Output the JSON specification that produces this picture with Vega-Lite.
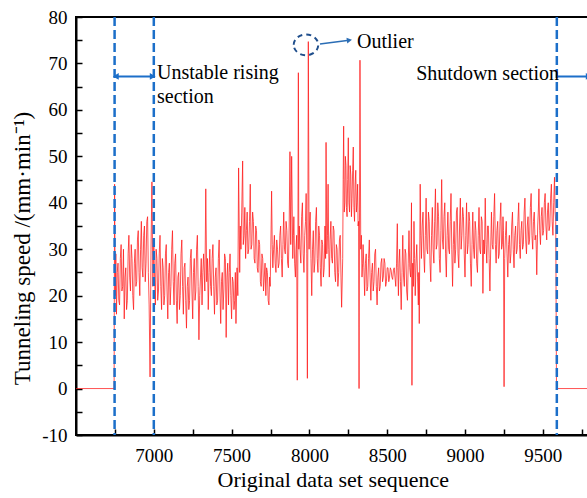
{
  "$schema": "https://vega.github.io/schema/vega-lite/v6.json",
  "width": 513.5,
  "height": 418,
  "autosize": {"type": "none"},
  "padding": {"left": 76, "top": 17, "right": 0, "bottom": 63},
  "background": "white",
  "config": {
    "font": "Liberation Serif",
    "view": {"stroke": "black", "strokeWidth": 2},
    "style": {"guide-label": {"font": "Liberation Serif"}, "guide-title": {"font": "Liberation Serif"}},
    "axis": {
      "domainColor": "black", "domainWidth": 2, "tickColor": "black", "tickWidth": 1.5,
      "labelFontSize": 19, "labelColor": "black",
      "titleFontWeight": "normal", "titleColor": "black",
      "grid": false
    }
  },
  "datasets": {
    "speed": [
      {"seq":6500,"v":0},{"seq":6745,"v":0},{"seq":6748,"v":44},{"seq":6752,"v":20},{"seq":6756,"v":29},{"seq":6760,"v":16},{"seq":6765,"v":25},{"seq":6770,"v":27},{"seq":6775,"v":19},{"seq":6780,"v":18},{"seq":6785,"v":28},{"seq":6790,"v":31},{"seq":6795,"v":21},{"seq":6800,"v":22},{"seq":6805,"v":30},{"seq":6810,"v":15},{"seq":6815,"v":24},{"seq":6820,"v":26},{"seq":6825,"v":17},{"seq":6830,"v":19},{"seq":6835,"v":29},{"seq":6840,"v":33},{"seq":6845,"v":24},{"seq":6850,"v":21},{"seq":6855,"v":31},{"seq":6860,"v":28},{"seq":6865,"v":20},{"seq":6870,"v":17},{"seq":6875,"v":27},{"seq":6880,"v":30},{"seq":6885,"v":22},{"seq":6890,"v":23},{"seq":6895,"v":32},{"seq":6900,"v":34},{"seq":6905,"v":25},{"seq":6910,"v":20},{"seq":6915,"v":30},{"seq":6920,"v":36},{"seq":6925,"v":26},{"seq":6930,"v":24},{"seq":6935,"v":33},{"seq":6940,"v":35},{"seq":6945,"v":23},{"seq":6950,"v":27},{"seq":6955,"v":36},{"seq":6960,"v":37},{"seq":6965,"v":25},{"seq":6970,"v":18},{"seq":6976,"v":2.5},{"seq":6982,"v":30},{"seq":6988,"v":44.5},{"seq":6994,"v":22},
      {"seq":7000,"v":31},{"seq":7005,"v":24},{"seq":7010,"v":18},{"seq":7015,"v":30},{"seq":7020,"v":28},{"seq":7025,"v":19},{"seq":7030,"v":21},{"seq":7035,"v":29},{"seq":7040,"v":33},{"seq":7045,"v":22},{"seq":7050,"v":17},{"seq":7055,"v":28},{"seq":7060,"v":26},{"seq":7065,"v":18},{"seq":7070,"v":20},{"seq":7075,"v":29},{"seq":7080,"v":31},{"seq":7085,"v":21},{"seq":7090,"v":15},{"seq":7095,"v":25},{"seq":7100,"v":27},{"seq":7105,"v":18},{"seq":7110,"v":22},{"seq":7115,"v":30},{"seq":7120,"v":34},{"seq":7125,"v":23},{"seq":7130,"v":18},{"seq":7135,"v":27},{"seq":7140,"v":29},{"seq":7145,"v":19},{"seq":7150,"v":14},{"seq":7155,"v":24},{"seq":7160,"v":25},{"seq":7165,"v":17},{"seq":7170,"v":20},{"seq":7175,"v":29},{"seq":7180,"v":32},{"seq":7185,"v":22},{"seq":7190,"v":16},{"seq":7195,"v":26},{"seq":7200,"v":27},{"seq":7205,"v":19},{"seq":7210,"v":13},{"seq":7215,"v":22},{"seq":7220,"v":24},{"seq":7225,"v":17},{"seq":7230,"v":19},{"seq":7235,"v":28},{"seq":7240,"v":30},{"seq":7245,"v":21},{"seq":7250,"v":15},{"seq":7255,"v":25},{"seq":7260,"v":28},{"seq":7265,"v":19},{"seq":7270,"v":21},{"seq":7275,"v":30},{"seq":7280,"v":33},{"seq":7285,"v":22},{"seq":7290,"v":10.5},{"seq":7295,"v":20},{"seq":7300,"v":24},{"seq":7305,"v":28},{"seq":7310,"v":18},{"seq":7315,"v":25},{"seq":7320,"v":29},{"seq":7328,"v":21},{"seq":7334,"v":43},{"seq":7340,"v":23},{"seq":7345,"v":28},{"seq":7350,"v":17},{"seq":7355,"v":25},{"seq":7360,"v":30},{"seq":7365,"v":22},{"seq":7370,"v":20},{"seq":7375,"v":28},{"seq":7380,"v":31},{"seq":7385,"v":22},{"seq":7390,"v":16},{"seq":7395,"v":24},{"seq":7400,"v":26},{"seq":7405,"v":18},{"seq":7410,"v":19},{"seq":7415,"v":28},{"seq":7420,"v":32},{"seq":7425,"v":21},{"seq":7430,"v":14},{"seq":7435,"v":23},{"seq":7440,"v":25},{"seq":7445,"v":17},{"seq":7450,"v":21},{"seq":7455,"v":29},{"seq":7460,"v":28},{"seq":7465,"v":11},{"seq":7470,"v":24},{"seq":7475,"v":27},{"seq":7480,"v":18},{"seq":7485,"v":25},{"seq":7490,"v":29},{"seq":7495,"v":20},{"seq":7500,"v":15},{"seq":7505,"v":24},{"seq":7510,"v":23},{"seq":7515,"v":17},{"seq":7520,"v":19},{"seq":7524,"v":25},{"seq":7528,"v":14},{"seq":7535,"v":26},{"seq":7540,"v":20},{"seq":7545,"v":47.5},{"seq":7552,"v":25},{"seq":7556,"v":35},{"seq":7560,"v":30},{"seq":7565,"v":38},{"seq":7571,"v":49},{"seq":7575,"v":31},{"seq":7580,"v":33},{"seq":7585,"v":39},{"seq":7590,"v":28},{"seq":7595,"v":34},{"seq":7600,"v":38},{"seq":7605,"v":29},{"seq":7610,"v":30},{"seq":7615,"v":36},{"seq":7620,"v":44},{"seq":7625,"v":30},{"seq":7630,"v":31},{"seq":7635,"v":38},{"seq":7640,"v":36},{"seq":7645,"v":28},{"seq":7650,"v":27},{"seq":7655,"v":35},{"seq":7660,"v":34},{"seq":7665,"v":26},{"seq":7670,"v":25},{"seq":7675,"v":32},{"seq":7680,"v":31},{"seq":7685,"v":23},{"seq":7690,"v":22},{"seq":7695,"v":29},{"seq":7700,"v":28},{"seq":7705,"v":21},{"seq":7710,"v":24},{"seq":7715,"v":27},{"seq":7720,"v":20},{"seq":7725,"v":26},{"seq":7730,"v":25},{"seq":7735,"v":19},{"seq":7740,"v":18},{"seq":7744,"v":24},{"seq":7748,"v":22},{"seq":7752,"v":30},{"seq":7757,"v":42.5},{"seq":7761,"v":31},{"seq":7765,"v":26},{"seq":7770,"v":30},{"seq":7775,"v":33},{"seq":7780,"v":27},{"seq":7785,"v":25},{"seq":7790,"v":32},{"seq":7795,"v":30},{"seq":7800,"v":26},{"seq":7805,"v":27},{"seq":7810,"v":33},{"seq":7815,"v":35},{"seq":7820,"v":28},{"seq":7825,"v":24},{"seq":7830,"v":31},{"seq":7835,"v":38},{"seq":7840,"v":30},{"seq":7845,"v":29},{"seq":7850,"v":36},{"seq":7855,"v":34},{"seq":7860,"v":27},{"seq":7865,"v":26},{"seq":7870,"v":35},{"seq":7875,"v":51},{"seq":7880,"v":31},{"seq":7886,"v":50},{"seq":7893,"v":28},{"seq":7897,"v":33},{"seq":7900,"v":37},{"seq":7905,"v":27},{"seq":7910,"v":24},{"seq":7914,"v":30},{"seq":7918,"v":33},{"seq":7922,"v":1.8},{"seq":7926,"v":30},{"seq":7929,"v":68},{"seq":7932,"v":30},{"seq":7935,"v":35},{"seq":7940,"v":30},{"seq":7945,"v":27},{"seq":7950,"v":37},{"seq":7955,"v":40},{"seq":7960,"v":29},{"seq":7965,"v":25},{"seq":7970,"v":33},{"seq":7975,"v":36},{"seq":7979,"v":42},{"seq":7983,"v":29},{"seq":7987,"v":2.2},{"seq":7990,"v":32},{"seq":7993,"v":74.7},{"seq":7998,"v":30},
      {"seq":8000,"v":35},{"seq":8005,"v":38},{"seq":8010,"v":28},{"seq":8015,"v":20},{"seq":8020,"v":30},{"seq":8025,"v":34},{"seq":8030,"v":25},{"seq":8035,"v":27},{"seq":8040,"v":36},{"seq":8045,"v":39},{"seq":8050,"v":28},{"seq":8055,"v":25},{"seq":8060,"v":35},{"seq":8065,"v":33},{"seq":8070,"v":26},{"seq":8075,"v":22},{"seq":8080,"v":32},{"seq":8085,"v":31},{"seq":8090,"v":24},{"seq":8095,"v":26},{"seq":8100,"v":35},{"seq":8104,"v":28},{"seq":8107,"v":53},{"seq":8112,"v":29},{"seq":8116,"v":33},{"seq":8120,"v":44},{"seq":8124,"v":30},{"seq":8128,"v":24},{"seq":8133,"v":32},{"seq":8138,"v":36},{"seq":8143,"v":28},{"seq":8148,"v":27},{"seq":8153,"v":35},{"seq":8158,"v":34},{"seq":8163,"v":25},{"seq":8168,"v":23},{"seq":8173,"v":31},{"seq":8178,"v":30},{"seq":8183,"v":22},{"seq":8188,"v":25},{"seq":8193,"v":32},{"seq":8198,"v":33},{"seq":8203,"v":24},{"seq":8207,"v":17.5},{"seq":8214,"v":28},{"seq":8217,"v":45},{"seq":8220,"v":56.5},{"seq":8224,"v":38},{"seq":8228,"v":40},{"seq":8231,"v":50},{"seq":8235,"v":48},{"seq":8238,"v":39},{"seq":8242,"v":37},{"seq":8246,"v":45},{"seq":8250,"v":54},{"seq":8254,"v":40},{"seq":8258,"v":38},{"seq":8262,"v":48},{"seq":8266,"v":46},{"seq":8270,"v":37},{"seq":8274,"v":41},{"seq":8278,"v":47},{"seq":8282,"v":52},{"seq":8286,"v":39},{"seq":8290,"v":36},{"seq":8294,"v":44},{"seq":8298,"v":47},{"seq":8302,"v":38},{"seq":8306,"v":40},{"seq":8310,"v":44},{"seq":8313,"v":35},{"seq":8316,"v":36},{"seq":8319,"v":0},{"seq":8322,"v":38},{"seq":8325,"v":70.7},{"seq":8330,"v":30},{"seq":8334,"v":33},{"seq":8338,"v":24},{"seq":8342,"v":27},{"seq":8345,"v":31},{"seq":8350,"v":26},{"seq":8355,"v":20},{"seq":8360,"v":27},{"seq":8365,"v":29},{"seq":8370,"v":21},{"seq":8375,"v":22},{"seq":8380,"v":28},{"seq":8385,"v":32},{"seq":8390,"v":24},{"seq":8395,"v":19},{"seq":8400,"v":25},{"seq":8405,"v":27},{"seq":8410,"v":21},{"seq":8415,"v":23},{"seq":8420,"v":29},{"seq":8425,"v":30},{"seq":8430,"v":22},{"seq":8435,"v":18},{"seq":8440,"v":24},{"seq":8445,"v":26},{"seq":8450,"v":21},{"seq":8455,"v":22},{"seq":8460,"v":27},{"seq":8465,"v":28},{"seq":8470,"v":23},{"seq":8475,"v":24},{"seq":8480,"v":28},{"seq":8485,"v":27},{"seq":8490,"v":22},{"seq":8495,"v":23},{"seq":8500,"v":26},{"seq":8505,"v":26},{"seq":8510,"v":23},{"seq":8515,"v":24},{"seq":8520,"v":26},{"seq":8525,"v":25.5},{"seq":8530,"v":24},{"seq":8535,"v":23.5},{"seq":8540,"v":25.5},{"seq":8545,"v":26},{"seq":8550,"v":24},{"seq":8555,"v":22},{"seq":8560,"v":27},{"seq":8565,"v":35.5},{"seq":8568,"v":26},{"seq":8572,"v":20},{"seq":8576,"v":27},{"seq":8580,"v":30},{"seq":8585,"v":23},{"seq":8590,"v":17},{"seq":8595,"v":25},{"seq":8600,"v":33},{"seq":8605,"v":24},{"seq":8610,"v":22},{"seq":8615,"v":30},{"seq":8620,"v":29},{"seq":8625,"v":21},{"seq":8630,"v":19},{"seq":8635,"v":27},{"seq":8640,"v":34},{"seq":8645,"v":26},{"seq":8650,"v":24},{"seq":8653,"v":30},{"seq":8656,"v":40},{"seq":8659,"v":0.7},{"seq":8664,"v":27},{"seq":8668,"v":22},{"seq":8672,"v":36},{"seq":8676,"v":28},{"seq":8680,"v":20},{"seq":8685,"v":27},{"seq":8690,"v":31},{"seq":8695,"v":24},{"seq":8700,"v":18},{"seq":8703,"v":25},{"seq":8706,"v":14},{"seq":8712,"v":44},{"seq":8716,"v":33},{"seq":8720,"v":28},{"seq":8725,"v":35},{"seq":8730,"v":38},{"seq":8735,"v":29},{"seq":8740,"v":25},{"seq":8745,"v":33},{"seq":8750,"v":41},{"seq":8755,"v":30},{"seq":8760,"v":29},{"seq":8765,"v":38},{"seq":8770,"v":36},{"seq":8775,"v":27},{"seq":8780,"v":23},{"seq":8785,"v":33},{"seq":8790,"v":39},{"seq":8795,"v":30},{"seq":8800,"v":27},{"seq":8805,"v":36},{"seq":8810,"v":43},{"seq":8815,"v":30},{"seq":8820,"v":31},{"seq":8825,"v":40},{"seq":8830,"v":37},{"seq":8835,"v":28},{"seq":8840,"v":25},{"seq":8845,"v":34},{"seq":8850,"v":45},{"seq":8855,"v":32},{"seq":8860,"v":30},{"seq":8865,"v":37},{"seq":8870,"v":40},{"seq":8875,"v":29},{"seq":8880,"v":24},{"seq":8885,"v":33},{"seq":8890,"v":38},{"seq":8895,"v":30},{"seq":8900,"v":29},{"seq":8905,"v":36},{"seq":8910,"v":42},{"seq":8915,"v":30},{"seq":8920,"v":22},{"seq":8925,"v":31},{"seq":8930,"v":36},{"seq":8935,"v":27},{"seq":8940,"v":30},{"seq":8945,"v":38},{"seq":8950,"v":39},{"seq":8955,"v":29},{"seq":8960,"v":26},{"seq":8965,"v":35},{"seq":8970,"v":41},{"seq":8975,"v":30},{"seq":8980,"v":33},{"seq":8985,"v":39},{"seq":8990,"v":37},{"seq":8995,"v":29},
      {"seq":9000,"v":24},{"seq":9005,"v":33},{"seq":9010,"v":40},{"seq":9015,"v":29},{"seq":9020,"v":31},{"seq":9025,"v":38},{"seq":9030,"v":36},{"seq":9035,"v":27},{"seq":9040,"v":22},{"seq":9045,"v":31},{"seq":9050,"v":38},{"seq":9055,"v":30},{"seq":9060,"v":28},{"seq":9065,"v":36},{"seq":9070,"v":34},{"seq":9075,"v":27},{"seq":9080,"v":25},{"seq":9085,"v":33},{"seq":9090,"v":39},{"seq":9095,"v":30},{"seq":9100,"v":29},{"seq":9105,"v":37},{"seq":9110,"v":36},{"seq":9115,"v":20.5},{"seq":9120,"v":32},{"seq":9125,"v":29},{"seq":9130,"v":41},{"seq":9135,"v":31},{"seq":9140,"v":27},{"seq":9145,"v":35},{"seq":9150,"v":35},{"seq":9155,"v":28},{"seq":9160,"v":21},{"seq":9165,"v":30},{"seq":9170,"v":38},{"seq":9175,"v":31},{"seq":9180,"v":30},{"seq":9185,"v":37},{"seq":9190,"v":42},{"seq":9195,"v":31},{"seq":9200,"v":27},{"seq":9205,"v":34},{"seq":9210,"v":36},{"seq":9215,"v":28},{"seq":9220,"v":29},{"seq":9225,"v":36},{"seq":9230,"v":40},{"seq":9235,"v":30},{"seq":9240,"v":31},{"seq":9244,"v":37},{"seq":9247,"v":34},{"seq":9251,"v":0.4},{"seq":9255,"v":28},{"seq":9260,"v":33},{"seq":9265,"v":36},{"seq":9270,"v":29},{"seq":9275,"v":24},{"seq":9280,"v":31},{"seq":9285,"v":33},{"seq":9290,"v":27},{"seq":9295,"v":29},{"seq":9300,"v":35},{"seq":9305,"v":38},{"seq":9310,"v":30},{"seq":9315,"v":26},{"seq":9320,"v":33},{"seq":9325,"v":35},{"seq":9330,"v":29},{"seq":9335,"v":30},{"seq":9340,"v":36},{"seq":9345,"v":40},{"seq":9350,"v":31},{"seq":9355,"v":28},{"seq":9360,"v":34},{"seq":9365,"v":36},{"seq":9370,"v":30},{"seq":9375,"v":31},{"seq":9380,"v":38},{"seq":9385,"v":41},{"seq":9390,"v":32},{"seq":9395,"v":29},{"seq":9400,"v":35},{"seq":9405,"v":37},{"seq":9410,"v":31},{"seq":9415,"v":32},{"seq":9420,"v":39},{"seq":9425,"v":42},{"seq":9430,"v":33},{"seq":9435,"v":30},{"seq":9440,"v":36},{"seq":9445,"v":38},{"seq":9450,"v":32},{"seq":9455,"v":33},{"seq":9458,"v":30},{"seq":9461,"v":24.5},{"seq":9467,"v":35},{"seq":9471,"v":38},{"seq":9475,"v":43},{"seq":9480,"v":34},{"seq":9485,"v":31},{"seq":9490,"v":37},{"seq":9495,"v":39},{"seq":9500,"v":33},{"seq":9505,"v":34},{"seq":9510,"v":40},{"seq":9515,"v":42},{"seq":9520,"v":35},{"seq":9525,"v":32},{"seq":9530,"v":38},{"seq":9535,"v":40},{"seq":9540,"v":34},{"seq":9545,"v":35},{"seq":9550,"v":41},{"seq":9555,"v":44},{"seq":9560,"v":36},{"seq":9565,"v":33},{"seq":9570,"v":40},{"seq":9575,"v":45.5},{"seq":9579,"v":38},{"seq":9583,"v":36},{"seq":9588,"v":0},{"seq":9800,"v":0}
    ]
  },
  "encoding": {
    "x": {
      "field": "seq", "type": "quantitative",
      "scale": {"domain": [6500, 9800], "nice": false, "zero": false},
      "axis": {
        "title": "Original data set sequence", "titleFontSize": 22, "titlePadding": 4,
        "values": [6750,7000,7250,7500,7750,8000,8250,8500,8750,9000,9250,9500,9750],
        "labelExpr": "datum.value % 500 == 0 ? format(datum.value, 'd') : ''",
        "labelFont": "Liberation Serif",
        "tickSize": -6,
        "labelPadding": 17.5
      }
    },
    "y": {
      "field": "v", "type": "quantitative",
      "scale": {"domain": [-10, 80], "nice": false, "zero": false},
      "axis": {
        "title": "Tunneling speed /(mm·min⁻¹)", "titleFontSize": 23, "titleFont": "Liberation Serif",
        "titleAngle": -90, "titleAlign": "center", "titleBaseline": "middle",
        "titleX": -54, "titleY": 231,
        "values": [-10,-5,0,5,10,15,20,25,30,35,40,45,50,55,60,65,70,75,80],
        "labelExpr": "datum.value % 10 == 0 ? '' + datum.value : ''",
        "labelFont": "Liberation Serif",
        "tickSize": -6,
        "labelPadding": 15
      }
    }
  },
  "layer": [
    {
      "data": {"name": "speed"},
      "mark": {"type": "line", "color": "#ff1a1a", "strokeWidth": 0.9, "opacity": 0.85, "clip": true}
    },
    {
      "data": {"values": [{"seq": 6748}, {"seq": 7000}, {"seq": 9590}]},
      "mark": {"type": "rule", "color": "#1c6fc9", "strokeWidth": 2.5, "strokeDash": [9, 4]},
      "encoding": {"x": {"field": "seq", "type": "quantitative"}, "y": null}
    },
    {
      "data": {"values": [{"seq": 6752, "seq2": 6996, "v": 67.2}, {"seq": 9592, "seq2": 9800, "v": 67.2}]},
      "mark": {"type": "rule", "color": "#1c6fc9", "strokeWidth": 2},
      "encoding": {"x2": {"field": "seq2"}}
    },
    {
      "data": {"values": [{"seq": 6756, "v": 67.2}]},
      "mark": {"type": "point", "shape": "triangle-left", "filled": true, "color": "#1c6fc9", "size": 45, "opacity": 1}
    },
    {
      "data": {"values": [{"seq": 6993, "v": 67.2}, {"seq": 9795, "v": 67.2}]},
      "mark": {"type": "point", "shape": "triangle-right", "filled": true, "color": "#1c6fc9", "size": 45, "opacity": 1}
    },
    {
      "data": {"values": [{"seq": 8068, "seq2": 8255, "v": 74.2, "v2": 75.0}]},
      "mark": {"type": "rule", "color": "#2a6db5", "strokeWidth": 1.5},
      "encoding": {"x2": {"field": "seq2"}, "y2": {"field": "v2"}}
    },
    {
      "data": {"values": [{"seq": 8257, "v": 75.0}]},
      "mark": {"type": "point", "shape": "triangle-right", "filled": true, "color": "#2a6db5", "size": 35, "angle": 352, "opacity": 1}
    },
    {
      "data": {"values": [{"seq": 7978, "v": 74.0}]},
      "mark": {"type": "point", "shape": "M-1,0A1,0.85,0,1,1,1,0A1,0.85,0,1,1,-1,0Z", "filled": false, "stroke": "#1f4e8c", "strokeWidth": 2, "strokeDash": [5, 4], "size": 600, "opacity": 1}
    },
    {
      "data": {"values": [{"seq": 7021, "v": 67.9, "label": "Unstable rising"}, {"seq": 7021, "v": 62.8, "label": "section"}, {"seq": 8306, "v": 74.6, "label": "Outlier"}]},
      "mark": {"type": "text", "align": "left", "baseline": "middle", "fontSize": 20, "font": "Liberation Serif", "color": "black"},
      "encoding": {"text": {"field": "label"}}
    },
    {
      "data": {"values": [{"seq": 9604, "v": 67.7, "label": "Shutdown section"}]},
      "mark": {"type": "text", "align": "right", "baseline": "middle", "fontSize": 20, "font": "Liberation Serif", "color": "black"},
      "encoding": {"text": {"field": "label"}}
    }
  ]
}
